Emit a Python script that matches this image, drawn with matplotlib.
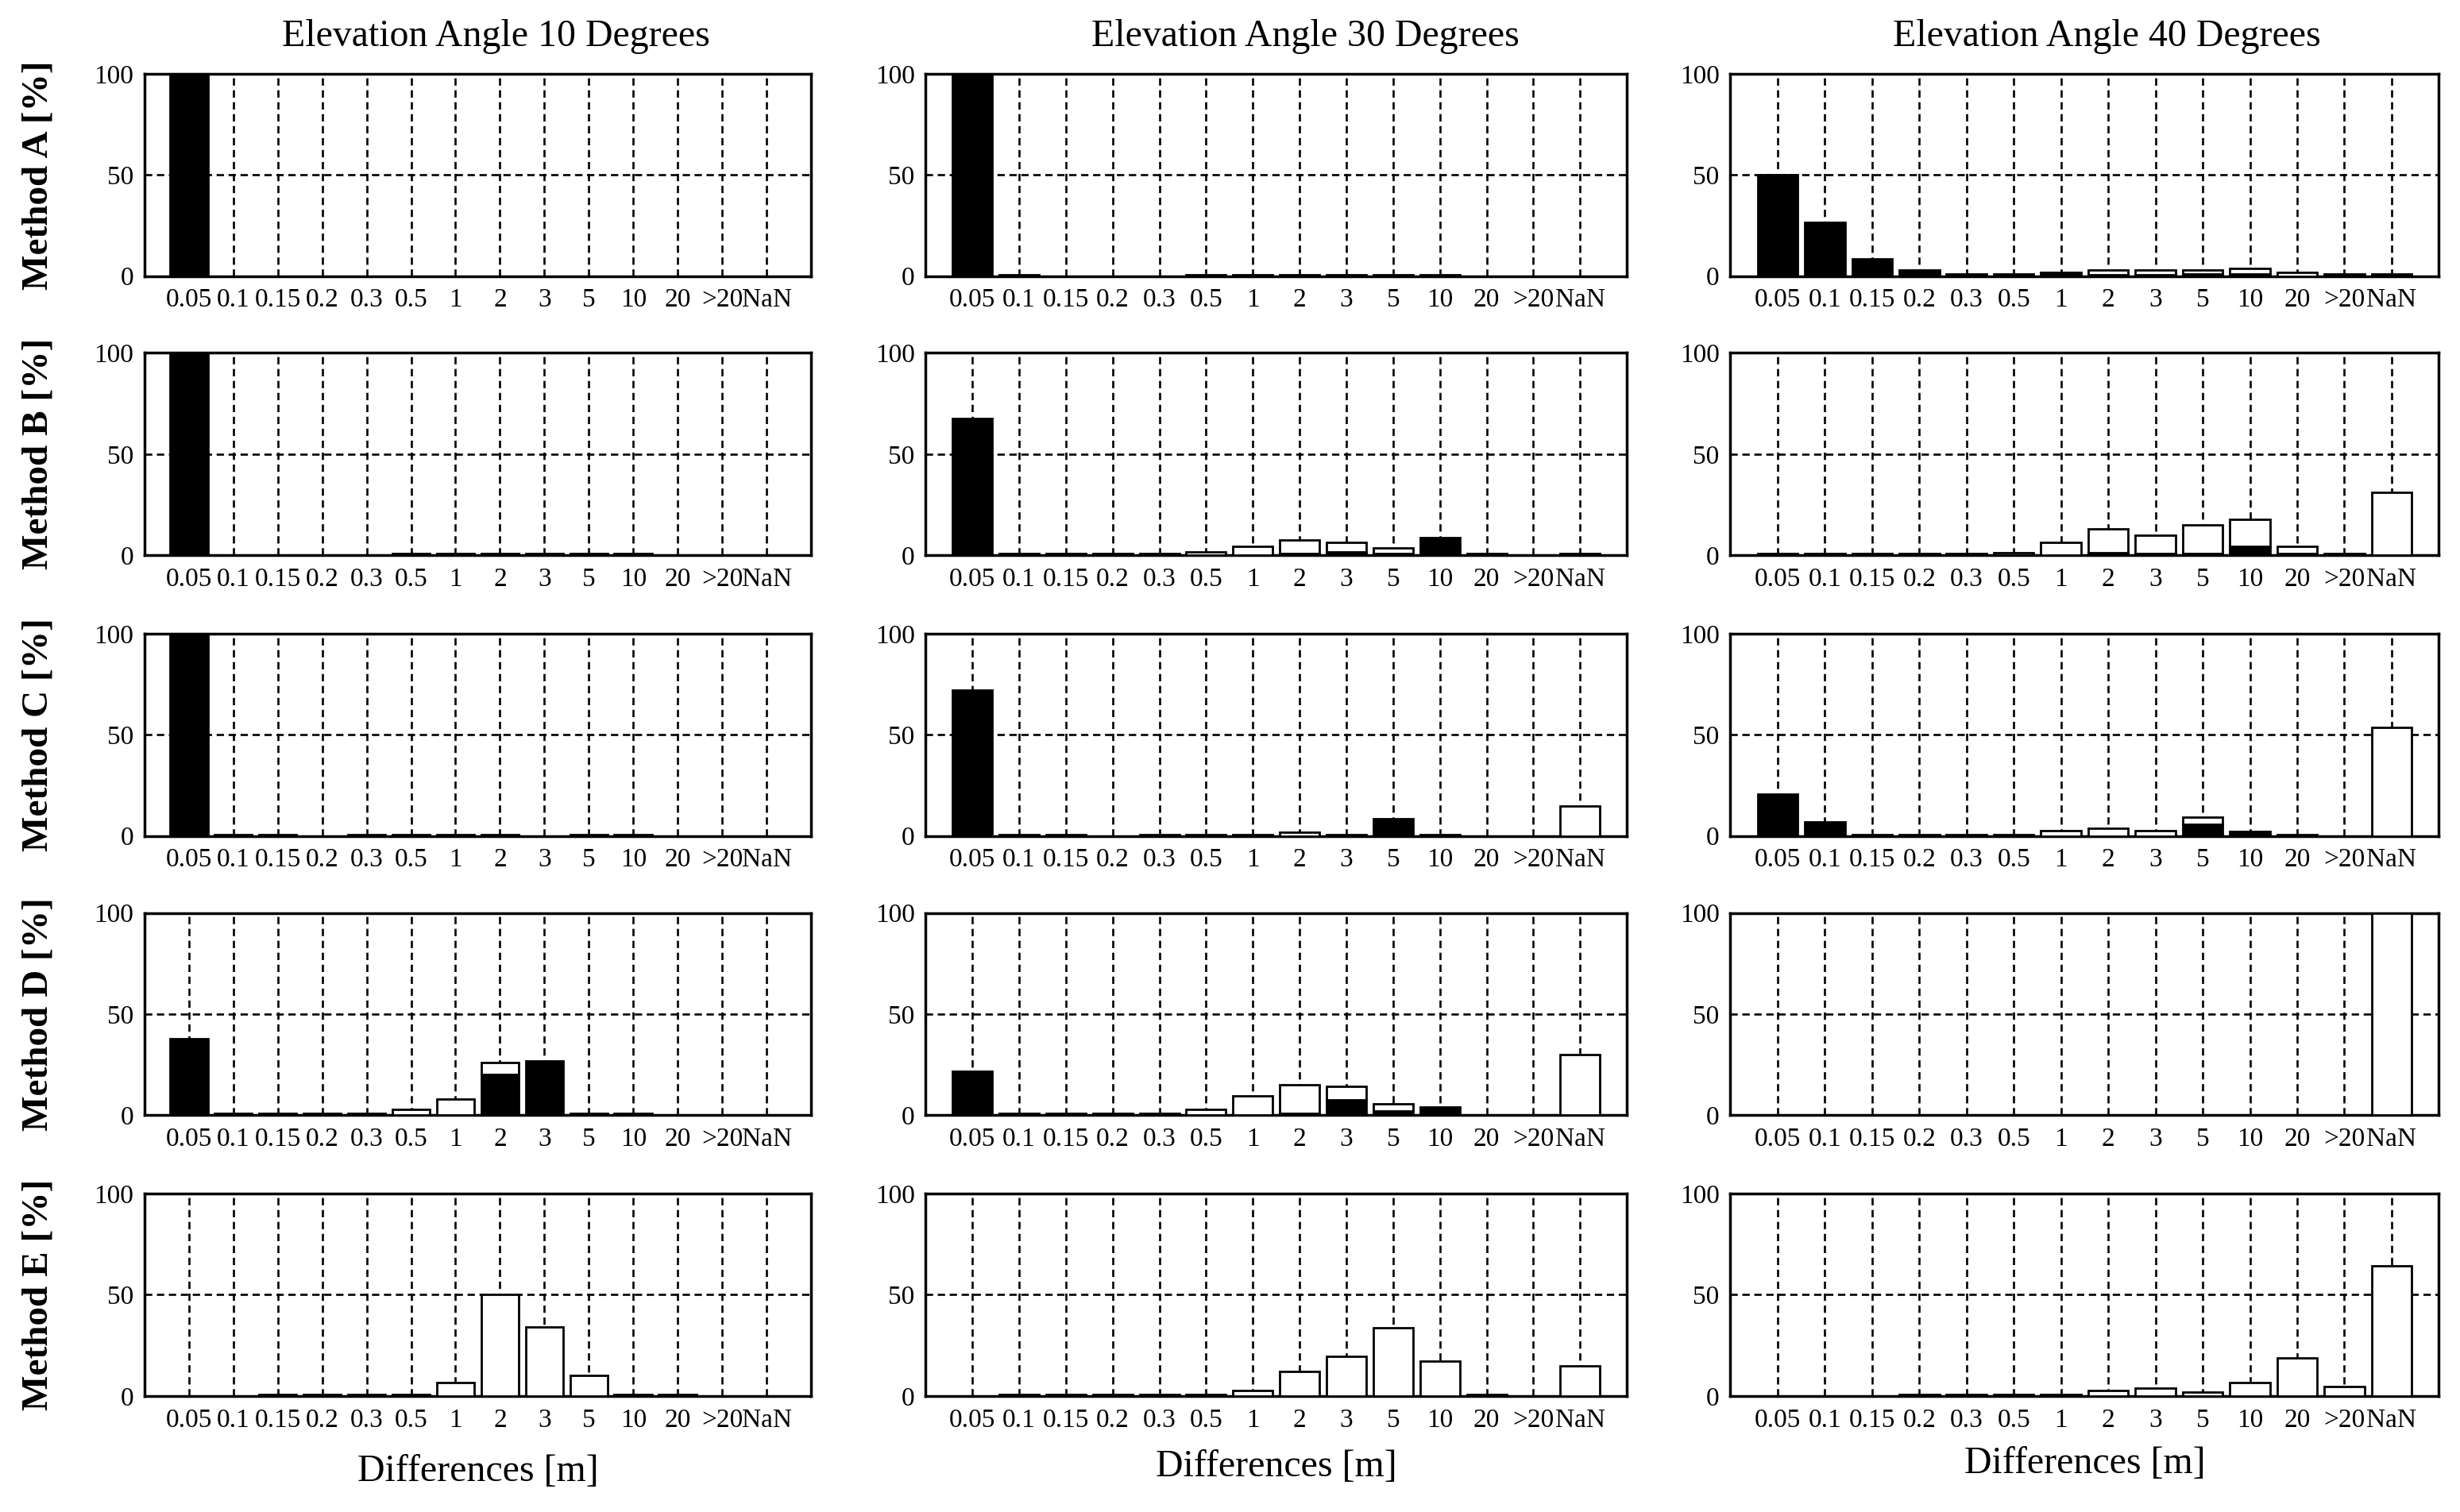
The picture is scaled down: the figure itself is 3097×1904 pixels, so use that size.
import numpy as np
import matplotlib
matplotlib.use("Agg")
import matplotlib.pyplot as plt

plt.rcParams["font.family"] = ["Liberation Serif", "DejaVu Serif"]

bins = ["0.05", "0.1", "0.15", "0.2", "0.3", "0.5", "1", "2", "3", "5", "10", "20", ">20", "NaN"]
methods = ["A", "B", "C", "D", "E"]
angles = [10, 30, 40]

# black part of each bar, rows = methods A..E
black_10 = [
    [100, 0, 0, 0, 0, 0, 0, 0, 0, 0, 0, 0, 0, 0],
    [100, 0, 0, 0, 0, .8, .8, .8, .8, .8, .8, 0, 0, 0],
    [100, .8, .8, 0, .8, .8, .8, .8, 0, .8, .8, 0, 0, 0],
    [38, .8, .8, .8, .8, 0, 0, 20, 27, .8, .8, 0, 0, 0],
    [0, 0, .8, .8, .8, .8, 0, 0, 0, 0, .8, .8, 0, 0],
]
# white part stacked on top of the black part
white_10 = [
    [0] * 14,
    [0] * 14,
    [0] * 14,
    [0, 0, 0, 0, 0, 3, 8, 6, 0, 0, 0, 0, 0, 0],
    [0, 0, 0, 0, 0, 0, 6.5, 50, 34, 10.2, 0, 0, 0, 0],
]

black_30 = [
    [100, .8, 0, 0, 0, .8, .8, .8, .8, .8, .8, 0, 0, 0],
    [67.5, .8, .8, .8, .8, 0, 0, .8, 1.8, .8, 8.5, .8, 0, .8],
    [72, .8, .8, 0, .8, .8, .8, 0, .8, 8.6, .8, 0, 0, 0],
    [21.7, .8, .8, .8, .8, 0, 0, .8, 7.6, 2, 4, 0, 0, 0],
    [0, .8, .8, .8, .8, .8, 0, 0, 0, 0, 0, .8, 0, 0],
]
white_30 = [
    [0] * 14,
    [0, 0, 0, 0, 0, 1.8, 4.5, 6.6, 4.7, 2.6, 0, 0, 0, 0],
    [0, 0, 0, 0, 0, 0, 0, 1.8, 0, 0, 0, 0, 0, 15],
    [0, 0, 0, 0, 0, 3, 9.6, 14.3, 6.5, 3.6, 0, 0, 0, 30],
    [0, 0, 0, 0, 0, 0, 2.6, 12.2, 19.6, 33.8, 17, 0, 0, 15],
]

black_40 = [
    [50, 26.7, 8.6, 3, 1, 1, 2, .8, .8, 1, 1, 0, 1, 1],
    [.8, .8, .8, .8, .8, 0, 0, 1.4, .8, .8, 4.5, .8, .8, 0],
    [20.8, 6.9, .8, .8, .8, .8, 0, 0, 0, 5.7, 2.1, .8, 0, 0],
    [0] * 14,
    [0, 0, 0, .8, .8, .8, .8, 0, 0, 0, 0, 0, 0, 0],
]
white_40 = [
    [0, 0, 0, 0, 0, 0, 0, 2.1, 2.1, 1.9, 2.8, 2, 0, 0],
    [0, 0, 0, 0, 0, 1.4, 6.3, 11.8, 9.1, 14, 13.2, 3.7, 0, 31],
    [0, 0, 0, 0, 0, 0, 2.8, 3.8, 2.8, 3.7, 0, 0, 0, 53.8],
    [0, 0, 0, 0, 0, 0, 0, 0, 0, 0, 0, 0, 0, 100],
    [0, 0, 0, 0, 0, 0, 0, 2.6, 3.7, 1.7, 6.4, 18.9, 4.6, 64.2],
]

blacks = [black_10, black_30, black_40]
whites = [white_10, white_30, white_40]

fig = plt.figure(figsize=(30.97, 19.04), dpi=100)

col_left = [0.0587, 0.3763, 0.7034]
col_width = [0.271, 0.285, 0.288]
row_bottom = [0.8174, 0.6328, 0.4471, 0.2624, 0.0768]
row_height = 0.1338
title_x = [0.2015, 0.5306, 0.8565]
xlabel_y = [0.027, 0.030, 0.032]

x = np.arange(1, len(bins) + 1)

for c in range(3):
    for r in range(5):
        ax = fig.add_axes([col_left[c], row_bottom[r], col_width[c], row_height])
        b = np.array(blacks[c][r], dtype=float)
        w = np.array(whites[c][r], dtype=float)
        mb = b > 0
        mw = w > 0
        ax.bar(x[mb], b[mb], width=0.85, color="black", edgecolor="black", linewidth=2, zorder=3)
        ax.bar(x[mw], w[mw], bottom=b[mw], width=0.85, color="white", edgecolor="black",
               linewidth=2, zorder=3)
        ax.set_xlim(0, 15)
        ax.set_ylim(0, 100)
        ax.set_xticks(x)
        ax.set_xticklabels(bins)
        ax.set_yticks([0, 50, 100])
        ax.tick_params(length=0, labelsize=24)
        ax.tick_params(axis="x", pad=11)
        ax.tick_params(axis="y", pad=10)
        ax.grid(True, color="black", linestyle=(0, (3.5, 2.2)), linewidth=1.9, zorder=0)
        ax.set_axisbelow(True)
        for s in ax.spines.values():
            s.set_linewidth(2.5)
        if c == 0:
            ax.set_ylabel("Method %s [%%]" % methods[r], fontsize=34, fontweight="bold")
            ax.yaxis.set_label_coords(-0.134, 0.5)

for c in range(3):
    fig.text(title_x[c], 0.976, "Elevation Angle %d Degrees" % angles[c], fontsize=34.5,
             ha="center", va="center")
    fig.text(col_left[c] + col_width[c] / 2, xlabel_y[c], "Differences [m]", fontsize=34.5,
             ha="center", va="center")

fig.savefig("out.png", dpi=100)
